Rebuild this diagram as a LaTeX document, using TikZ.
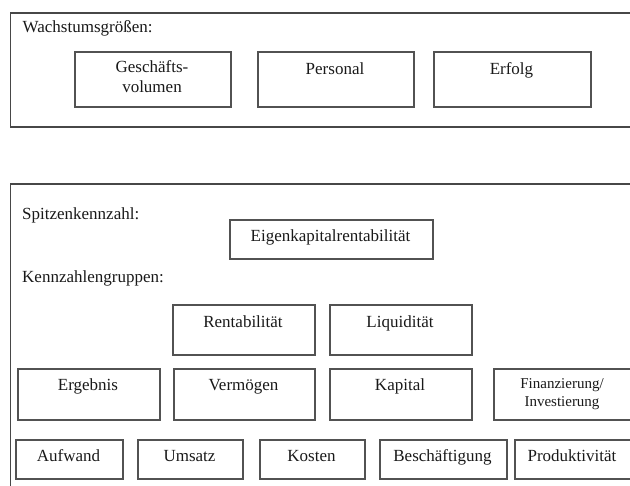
\documentclass[tikz,border=0pt]{standalone}
\usepackage{fontspec}
\setmainfont{Liberation Serif}
\begin{document}
\begin{tikzpicture}[x=1pt,y=-1pt,
  frame/.style={draw=black!72, line width=1.8pt, inner sep=0pt, anchor=north west},
  cell/.style={draw=black!68, line width=1.8pt, inner sep=0pt, anchor=north west},
  txt/.style={inner sep=0pt, anchor=base, text=black!90, font=\fontsize{17}{20}\selectfont},
  small/.style={inner sep=0pt, anchor=base, text=black!90, font=\fontsize{15}{17.5}\selectfont},
  head/.style={inner sep=0pt, anchor=base west, text=black!90, font=\fontsize{17}{20}\selectfont}]
\useasboundingbox (0,0) rectangle (630,486);
\clip (0,0) rectangle (630,486);

% growth figures
\node[frame, minimum width=640pt, minimum height=114pt] (top) at (9.5,12) {};
\node[head] (wg) at (22.5,33) {Wachstumsgrößen:};
\node[cell, minimum width=156pt, minimum height=55pt] (gv) at (74,51) {};
\node[cell, minimum width=156pt, minimum height=55pt] (pe) at (257,51) {};
\node[cell, minimum width=157pt, minimum height=55pt] (er) at (433,51) {};
\node[txt] (gvt1) at (152,73) {Geschäfts-};
\node[txt] (gvt2) at (152,93) {volumen};
\node[txt] (pet) at (335,74.5) {Personal};
\node[txt] (ert) at (511.5,74.5) {Erfolg};

% key figures
\node[frame, minimum width=640pt, minimum height=320pt] (bot) at (9.5,183) {};
\node[head] (sk) at (22,220) {Spitzenkennzahl:};
\node[cell, minimum width=203pt, minimum height=39pt] (ek) at (229,219) {};
\node[txt] (ekt) at (330.5,241.5) {Eigenkapitalrentabilität};
\node[head] (kg) at (22,283) {Kennzahlengruppen:};

% second level
\node[cell, minimum width=142pt, minimum height=50pt] (re) at (172,304) {};
\node[cell, minimum width=142pt, minimum height=50pt] (li) at (329,304) {};
\node[txt] (ret) at (243,327.5) {Rentabilität};
\node[txt] (lit) at (400,327.5) {Liquidität};

% third level
\node[cell, minimum width=142pt, minimum height=51pt] (eg) at (17,368) {};
\node[cell, minimum width=141pt, minimum height=51pt] (ve) at (173,368) {};
\node[cell, minimum width=142pt, minimum height=51pt] (ka) at (329,368) {};
\node[cell, minimum width=138pt, minimum height=51pt] (fi) at (493,368) {};
\node[txt] (egt) at (88,390.5) {Ergebnis};
\node[txt] (vet) at (243.5,390.5) {Vermögen};
\node[txt] (kat) at (400,390.5) {Kapital};
\node[small] (fit1) at (562,389) {Finanzierung/};
\node[small] (fit2) at (562,406.5) {Investierung};

% fourth level
\node[cell, minimum width=107pt, minimum height=39pt] (au) at (15,439) {};
\node[cell, minimum width=105pt, minimum height=39pt] (um) at (137,439) {};
\node[cell, minimum width=105pt, minimum height=39pt] (ko) at (259,439) {};
\node[cell, minimum width=127pt, minimum height=39pt] (be) at (379,439) {};
\node[cell, minimum width=120pt, minimum height=39pt] (pr) at (514,439) {};
\node[txt] (aut) at (68.5,461.5) {Aufwand};
\node[txt] (umt) at (189.5,461.5) {Umsatz};
\node[txt] (kot) at (311.5,461.5) {Kosten};
\node[txt] (bet) at (442.5,461.5) {Beschäftigung};
\node[txt] (prt) at (572,461.5) {Produktivität};
\end{tikzpicture}
\end{document}
